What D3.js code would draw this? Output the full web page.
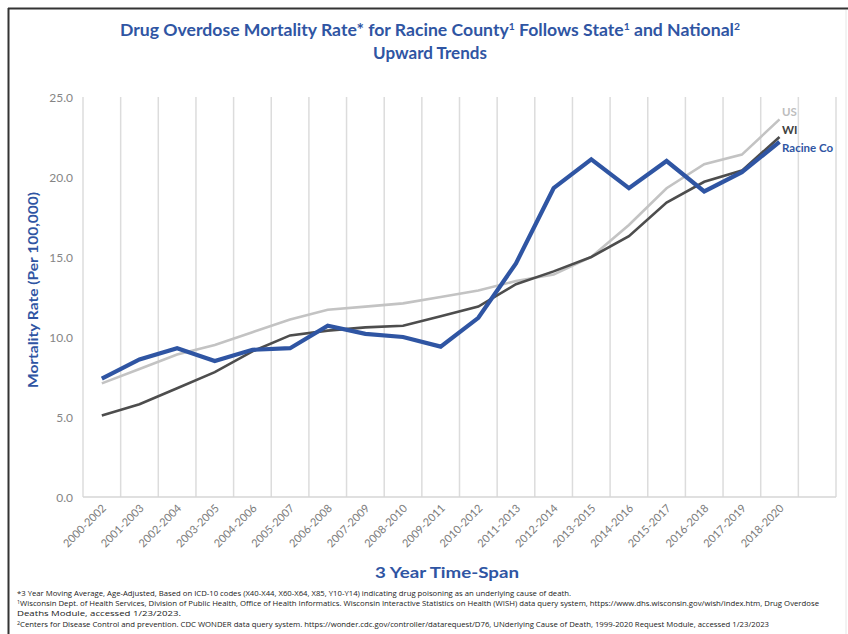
<!DOCTYPE html>
<html><head><meta charset="utf-8">
<script src="https://cdn.jsdelivr.net/npm/d3@7"></script>
<style>html,body{margin:0;padding:0;background:#fff;} svg{display:block;}</style>
</head><body>
<svg id="chart" width="848" height="634"></svg>
<script>
const categories = ["2000-2002","2001-2003","2002-2004","2003-2005","2004-2006","2005-2007","2006-2008","2007-2009","2008-2010","2009-2011","2010-2012","2011-2013","2012-2014","2013-2015","2014-2016","2015-2017","2016-2018","2017-2019","2018-2020"];
const racine = [7.4, 8.6, 9.3, 8.5, 9.2, 9.3, 10.7, 10.2, 10.0, 9.4, 11.2, 14.6, 19.3, 21.1, 19.3, 21.0, 19.1, 20.3, 22.2];
const wi = [5.1, 5.8, 6.8, 7.8, 9.1, 10.1, 10.4, 10.6, 10.7, 11.3, 11.9, 13.3, 14.1, 15.0, 16.3, 18.4, 19.7, 20.4, 22.5];
const us = [7.1, 8.0, 8.9, 9.5, 10.3, 11.1, 11.7, 11.9, 12.1, 12.5, 12.9, 13.5, 13.9, 15.0, 17.0, 19.3, 20.8, 21.4, 23.6];
const yTicks = [0, 5, 10, 15, 20, 25];
const seriesNames = ["US", "WI", "Racine Co"];

const svg = d3.select("#chart");
const blue = "#2F55A3";
const pLeft = 83, pRight = 836, pTop = 97, pBottom = 497;

// frame
svg.append("line").attr("x1",8).attr("x2",848).attr("y1",8.5).attr("y2",8.5).attr("stroke","#333").attr("stroke-width",2);
svg.append("line").attr("x1",8.5).attr("x2",8.5).attr("y1",8).attr("y2",634).attr("stroke","#333").attr("stroke-width",2);
svg.append("line").attr("x1",846).attr("x2",846).attr("y1",10).attr("y2",634).attr("stroke","#e6e6e6").attr("stroke-width",1);

const slots = categories.concat([""]);
const x = d3.scaleBand().domain(slots).range([pLeft, pRight]).padding(0);
const y = d3.scaleLinear().domain([0, 25]).range([pBottom, pTop]);

// vertical gridlines at band boundaries
const bounds = slots.map(c => x(c)).concat([pRight]);
svg.append("g").selectAll("line").data(bounds).join("line")
  .attr("x1", d => d).attr("x2", d => d).attr("y1", pTop).attr("y2", pBottom)
  .attr("stroke", "#dcdcdc").attr("stroke-width", 1.5);
svg.append("line").attr("x1", pLeft).attr("x2", pRight).attr("y1", pBottom).attr("y2", pBottom)
  .attr("stroke", "#d6d6d6").attr("stroke-width", 1.5);

// y axis
const ya = svg.append("g").attr("transform", `translate(${pLeft - 10},0)`)
  .call(d3.axisLeft(y).tickValues(yTicks).tickFormat(d3.format(".1f")).tickSize(0).tickPadding(0));
ya.select(".domain").remove();
ya.selectAll("text").attr("font-family", "Lato, sans-serif").attr("font-size", 12).attr("fill", "#858585").attr("dy", "0.35em");

// x axis
const xa = svg.append("g").attr("transform", `translate(0,${pBottom})`)
  .call(d3.axisBottom(x).tickValues(categories).tickSize(0).tickPadding(0));
xa.select(".domain").remove();
xa.selectAll("text")
  .attr("font-family", "Lato, sans-serif").attr("font-size", 11).attr("fill", "#7a7a7a")
  .attr("text-anchor", "end").attr("dy", null).attr("y", 0)
  .attr("transform", "translate(5,12) rotate(-45)");

// lines
const cx = i => x(categories[i]) + x.bandwidth() / 2;
const line = d3.line().x((d, i) => cx(i)).y(d => y(d));
const series = [
  {name: seriesNames[0], values: us, color: "#c3c3c3", width: 2.6},
  {name: seriesNames[1], values: wi, color: "#4d4d4d", width: 2.6},
  {name: seriesNames[2], values: racine, color: blue, width: 4.2}
];
series.forEach(s => {
  svg.append("path").datum(s.values).attr("d", line)
    .attr("fill", "none").attr("stroke", s.color).attr("stroke-width", s.width)
    .attr("stroke-linejoin", "miter").attr("stroke-linecap", "butt");
});

// series labels
const labelY = [112, 130, 148];
const labelColor = ["#bdbdbd", "#404040", blue];
series.forEach((s, i) => {
  svg.append("text").attr("x", 782).attr("y", labelY[i]).attr("dy", "0.35em")
    .attr("font-family", "Lato, sans-serif").attr("font-weight", "bold").attr("font-size", 11.5)
    .attr("fill", labelColor[i]).text(s.name);
});

// title
const t1 = svg.append("text").attr("x", 430).attr("y", 36).attr("text-anchor", "middle")
  .attr("font-family", "Lato, sans-serif").attr("font-weight", "bold").attr("font-size", 17).attr("fill", blue)
  .attr("textLength", 620).attr("lengthAdjust", "spacingAndGlyphs");
t1.append("tspan").text("Drug Overdose Mortality Rate* for Racine County");
t1.append("tspan").attr("font-size", 10).attr("dy", -6).text("1");
t1.append("tspan").attr("dy", 6).text(" Follows State");
t1.append("tspan").attr("font-size", 10).attr("dy", -6).text("1");
t1.append("tspan").attr("dy", 6).text(" and National");
t1.append("tspan").attr("font-size", 10).attr("dy", -6).text("2");
svg.append("text").attr("x", 430).attr("y", 59).attr("text-anchor", "middle")
  .attr("font-family", "Lato, sans-serif").attr("font-weight", "bold").attr("font-size", 17).attr("fill", blue)
  .text("Upward Trends");

// axis titles
svg.append("text").attr("transform", "translate(38,290) rotate(-90)").attr("text-anchor", "middle")
  .attr("font-family", "Lato, sans-serif").attr("font-weight", "bold").attr("font-size", 12.5).attr("fill", blue)
  .attr("textLength", 196).attr("lengthAdjust", "spacingAndGlyphs")
  .text("Mortality Rate (Per 100,000)");
svg.append("text").attr("x", 447).attr("y", 578).attr("text-anchor", "middle")
  .attr("font-family", "Lato, sans-serif").attr("font-weight", "bold").attr("font-size", 15).attr("fill", blue)
  .attr("textLength", 144).attr("lengthAdjust", "spacingAndGlyphs")
  .text("3 Year Time-Span");

// footnotes
const notes = [
  {sup: "", text: "*3 Year Moving Average, Age-Adjusted, Based on ICD-10 codes (X40-X44, X60-X64, X85, Y10-Y14) indicating drug poisoning as an underlying cause of death.", y: 596, w: 554},
  {sup: "1", text: "Wisconsin Dept. of Health Services, Division of Public Health, Office of Health Informatics. Wisconsin Interactive Statistics on Health (WISH) data query system, https://www.dhs.wisconsin.gov/wish/index.htm, Drug Overdose", y: 606, w: 802},
  {sup: "", text: "Deaths Module, accessed 1/23/2023.", y: 616, w: 164},
  {sup: "2", text: "Centers for Disease Control and prevention. CDC WONDER data query system. https://wonder.cdc.gov/controller/datarequest/D76, UNderlying Cause of Death, 1999-2020 Request Module, accessed 1/23/2023", y: 627, w: 752}
];
notes.forEach(n => {
  const t = svg.append("text").attr("x", 17).attr("y", n.y)
    .attr("font-family", "'Open Sans', sans-serif").attr("font-size", 7.2).attr("fill", "#222")
    .attr("textLength", n.w).attr("lengthAdjust", "spacingAndGlyphs");
  if (n.sup) t.append("tspan").attr("font-size", 5).attr("dy", -2.5).text(n.sup);
  t.append("tspan").attr("dy", n.sup ? 2.5 : 0).text(n.text);
});
</script>
</body></html>
